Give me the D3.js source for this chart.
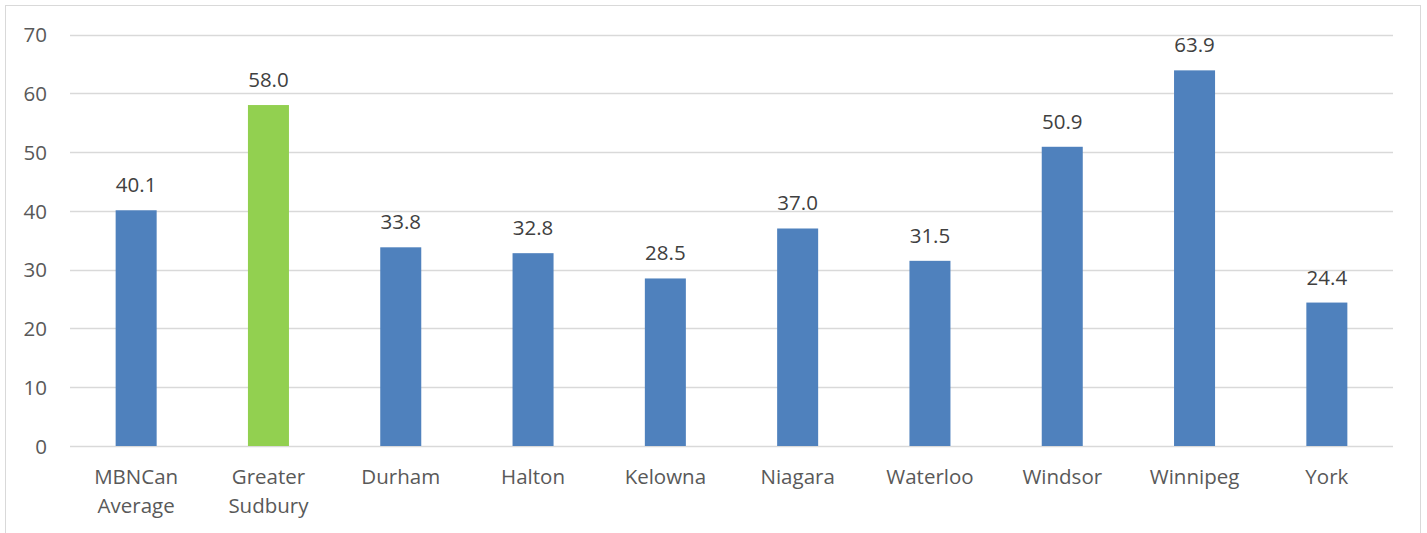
<!DOCTYPE html>
<html>
<head>
<meta charset="utf-8">
<script src="https://cdn.jsdelivr.net/npm/d3@7"></script>
<style>
  html, body { margin: 0; padding: 0; background: #fff; }
  svg { display: block; font-family: "Open Sans", "Noto Sans", sans-serif; }
</style>
</head>
<body>
<svg id="chart" width="1427" height="533"></svg>
<script>
// Categories and values (one series)
const categories = [["MBNCan", "Average"], ["Greater", "Sudbury"], ["Durham"], ["Halton"], ["Kelowna"],
                    ["Niagara"], ["Waterloo"], ["Windsor"], ["Winnipeg"], ["York"]];
const values = [40.1, 58.0, 33.8, 32.8, 28.5, 37.0, 31.5, 50.9, 63.9, 24.4];
const highlight = [false, true, false, false, false, false, false, false, false, false];
const yTicks = [0, 10, 20, 30, 40, 50, 60, 70];

const svg = d3.select("#chart");
const plot = { left: 70, right: 1393, top: 34.5, bottom: 446 };
const fontSize = "20.5px";

// Outer frame
svg.append("rect")
  .attr("x", 5.5).attr("y", 5.5)
  .attr("width", 1415).attr("height", 540)
  .attr("fill", "none").attr("stroke", "#d9d9d9").attr("stroke-width", 1);

const x = d3.scaleBand()
  .domain(d3.range(categories.length))
  .range([plot.left, plot.right])
  .paddingInner(0.69).paddingOuter(0.345);

const y = d3.scaleLinear().domain([0, 70]).range([plot.bottom, plot.top]);

// Gridlines
svg.append("g").selectAll("line").data(yTicks).join("line")
  .attr("x1", plot.left).attr("x2", plot.right)
  .attr("y1", d => Math.round(y(d)) + 0.5).attr("y2", d => Math.round(y(d)) + 0.5)
  .attr("stroke", "#d9d9d9").attr("stroke-width", 1.3);

// Y axis labels
const yAxis = d3.axisLeft(y).tickValues(yTicks).tickSize(0).tickPadding(0).tickFormat(d3.format("d"));
const yg = svg.append("g").attr("transform", `translate(47,0)`).call(yAxis);
yg.select(".domain").remove();
yg.selectAll("text").attr("fill", "#595959").style("font-size", fontSize)
  .style("font-family", "'Open Sans', sans-serif").attr("dy", "0.35em");

// Bars
svg.append("g").selectAll("rect").data(values).join("rect")
  .attr("x", (d, i) => x(i))
  .attr("width", x.bandwidth())
  .attr("y", d => y(d))
  .attr("height", d => y(0) - y(d))
  .attr("fill", (d, i) => highlight[i] ? "#92d050" : "#4f81bd");

// Value labels
svg.append("g").selectAll("text").data(values).join("text")
  .attr("x", (d, i) => x(i) + x.bandwidth() / 2)
  .attr("y", d => y(d) - 18)
  .attr("text-anchor", "middle")
  .attr("fill", "#404040")
  .style("font-size", fontSize)
  .text(d => d3.format(".1f")(d));

// Category labels
const xg = svg.append("g").selectAll("text").data(categories).join("text")
  .attr("text-anchor", "middle")
  .attr("fill", "#595959")
  .style("font-size", fontSize);
xg.selectAll("tspan").data((d, i) => d.map(s => ({ s, i }))).join("tspan")
  .attr("x", d => x(d.i) + x.bandwidth() / 2)
  .attr("y", (d, j) => 484 + j * 28.5)
  .text(d => d.s);
</script>
</body>
</html>
